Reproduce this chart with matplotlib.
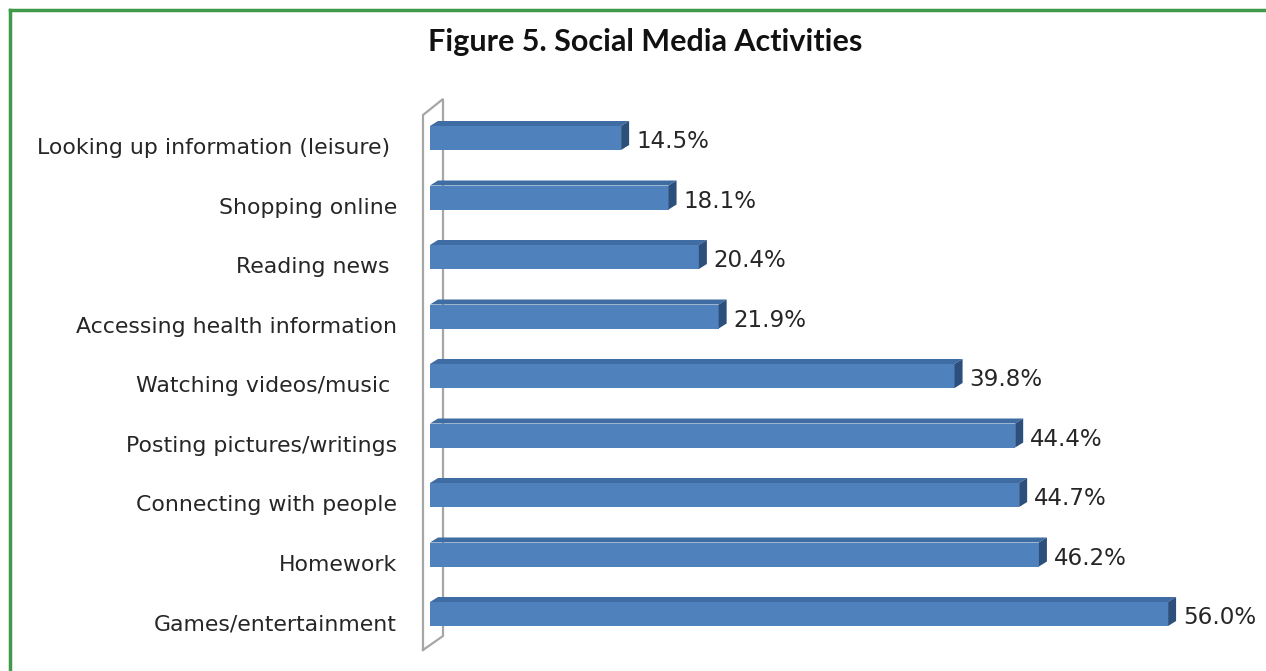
import matplotlib.pyplot as plt
from matplotlib.patches import Polygon
from matplotlib.lines import Line2D

categories = ["Looking up information (leisure) ", "Shopping online", "Reading news ",
              "Accessing health information", "Watching videos/music ",
              "Posting pictures/writings", "Connecting with people", "Homework",
              "Games/entertainment"]
values = [14.5, 18.1, 20.4, 21.9, 39.8, 44.4, 44.7, 46.2, 56.0]
value_labels = ["14.5%", "18.1%", "20.4%", "21.9%", "39.8%", "44.4%", "44.7%", "46.2%", "56.0%"]

W, H = 1266, 671
fig = plt.figure(figsize=(W / 100, H / 100), dpi=100)

# pixel layout of the plot area
x0_px, px_per_unit = 430, 13.18
top_px, step_px = 138, 59.5
ax_l, ax_r, ax_t, ax_b = 400, 1266, 80, 671
ax = fig.add_axes([ax_l / W, 1 - ax_b / H, (ax_r - ax_l) / W, (ax_b - ax_t) / H])
ax.set_xlim((ax_l - x0_px) / px_per_unit, (ax_r - x0_px) / px_per_unit)
ax.set_ylim((ax_b - top_px) / step_px, (ax_t - top_px) / step_px)
ax.axis("off")

dx = 8 / px_per_unit      # depth in value units
dy = 5 / step_px          # depth in category units
h = 24 / step_px          # bar face height

front = "#4f81bd"
topc = "#3e6ca3"
side = "#2c4f7c"

ypos = list(range(len(categories)))
ax.barh(ypos, values, height=h, color=front, edgecolor="none", zorder=3)
for y, v, lab in zip(ypos, values, value_labels):
    yt = y - h / 2
    ax.add_patch(Polygon([(0, yt), (dx, yt - dy), (v + dx, yt - dy), (v, yt)],
                         closed=True, facecolor=topc, edgecolor="none", zorder=3))
    ax.add_patch(Polygon([(v, yt), (v + dx, yt - dy), (v + dx, y + h / 2 - dy), (v, y + h / 2)],
                         closed=True, facecolor=side, edgecolor="none", zorder=3))
    ax.text(v + dx + 7 / px_per_unit, y + 0.06, lab, ha="left", va="center",
            fontsize=16.6, color="#262626", family="DejaVu Sans")
    ax.text(-33 / px_per_unit, y + 0.17, categories[y], ha="right", va="center",
            fontsize=15.8, color="#262626", family="DejaVu Sans")

# side wall of the 3D frame
wx1, wx2 = -7 / px_per_unit, 13 / px_per_unit
wy_ft, wy_fb = (115 - top_px) / step_px, (650 - top_px) / step_px
wy_bt, wy_bb = (99 - top_px) / step_px, (636 - top_px) / step_px
ax.plot([wx1, wx1, wx2, wx2, wx1], [wy_fb, wy_ft, wy_bt, wy_bb, wy_fb],
        color="#a6a6a6", lw=1.6, zorder=2, solid_joinstyle="miter")

fig.text(645 / W, 1 - 42 / H, "Figure 5. Social Media Activities", ha="center", va="center",
         fontsize=22, fontweight="bold", family="Lato", color="#111111")

# green frame
fig.add_artist(Line2D([10 / W, 10 / W], [0, 1 - 9.5 / H], color="#3f9a4a", lw=2.5))
fig.add_artist(Line2D([10 / W, 1], [1 - 9.5 / H, 1 - 9.5 / H], color="#3f9a4a", lw=2.5))

fig.savefig("out.png", dpi=100, facecolor="white")
